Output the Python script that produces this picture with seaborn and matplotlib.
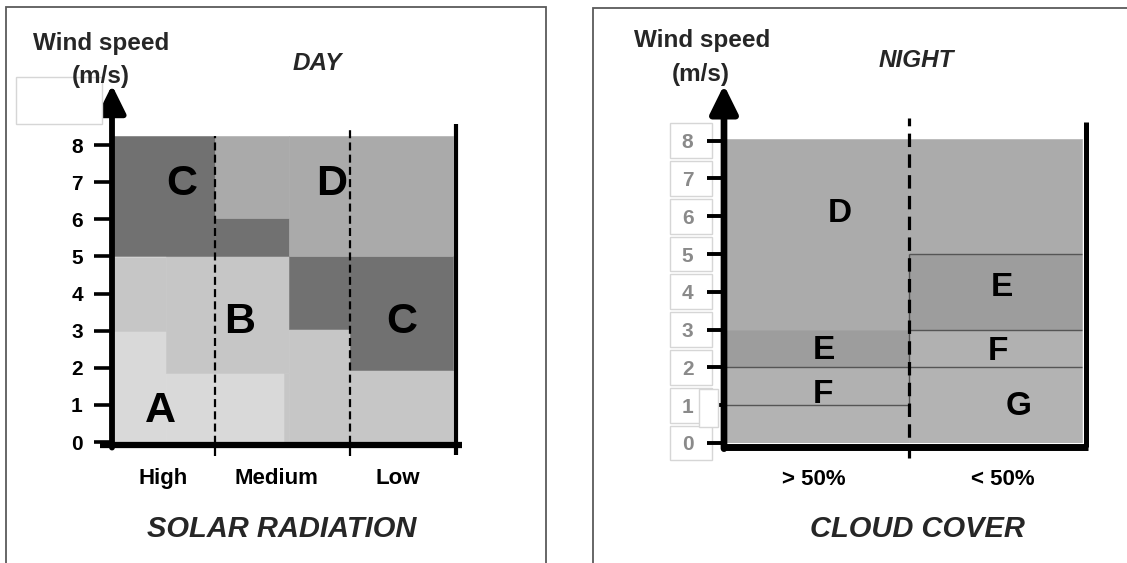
import numpy as np
import pandas as pd
import matplotlib
matplotlib.use("Agg")
import matplotlib.pyplot as plt
from matplotlib.patches import Rectangle
import seaborn as sns

# ---------------- data ----------------
wind_ticks = [0, 1, 2, 3, 4, 5, 6, 7, 8]

# DAY panel: x = relative position along the solar-radiation axis (0 = strong, 1 = weak)
day_classes = ['A', 'A', 'B', 'B', 'B', 'B', 'B', 'C', 'C', 'C', 'C', 'D', 'D']
day_x0 = [0.000, 0.156, 0.000, 0.156, 0.499, 0.515, 0.693, 0.000, 0.300, 0.515, 0.693, 0.300, 0.515]
day_x1 = [0.156, 0.499, 0.156, 0.515, 0.515, 0.693, 0.991, 0.300, 0.515, 0.693, 0.991, 0.515, 0.991]
day_y0 = [0.0, 0.0, 3.0, 1.86, 0.0, 0.0, 0.0, 5.0, 5.0, 3.05, 1.95, 6.04, 5.0]
day_y1 = [3.0, 1.86, 5.0, 5.0, 1.86, 3.05, 1.95, 8.24, 6.04, 5.0, 5.0, 8.24, 8.24]
day_categories = ['High', 'Medium', 'Low']
day_category_pos = [0.148, 0.477, 0.831]
day_dividers = [0.300, 0.693]
day_divider_top = [8.24, 8.41]
day_labels = ['C', 'D', 'B', 'C', 'A']
day_label_x = [0.203, 0.637, 0.372, 0.843, 0.142]
day_label_y = [6.66, 6.66, 2.94, 2.94, 0.54]

# NIGHT panel: x = relative position along the cloud-cover axis
night_classes = ['D', 'D', 'E', 'E', 'F', 'F', 'G', '-']
night_x0 = [0.00, 0.51, 0.00, 0.51, 0.00, 0.51, 0.51, 0.00]
night_x1 = [0.51, 0.989, 0.51, 0.989, 0.51, 0.989, 0.989, 0.51]
night_y0 = [3.0, 5.0, 2.0, 3.0, 1.0, 2.0, 0.0, 0.0]
night_y1 = [8.03, 8.03, 3.0, 5.0, 2.0, 3.0, 2.0, 1.0]
night_categories = ['> 50%', '< 50%']
night_category_pos = [0.249, 0.771]
night_divider = [0.51]
night_line_y = [2.0, 1.0, 3.0, 5.0]
night_line_x0 = [0.00, 0.00, 0.51, 0.51]
night_line_x1 = [0.989, 0.51, 0.989, 0.989]
night_labels = ['D', 'E', 'F', 'E', 'F', 'G']
night_label_x = [0.319, 0.276, 0.272, 0.767, 0.757, 0.815]
night_label_y = [5.85, 2.21, 1.05, 3.90, 2.19, 0.75]

day_palette = {'A': '#d9d9d9', 'B': '#c6c6c6', 'C': '#717171', 'D': '#aaaaaa'}
night_palette = {'D': '#ababab', 'E': '#9d9d9d', 'F': '#b1b1b1', 'G': '#b3b3b3', '-': '#b3b3b3'}

day_df = pd.DataFrame({'cls': day_classes, 'x0': day_x0, 'x1': day_x1, 'y0': day_y0, 'y1': day_y1})
night_df = pd.DataFrame({'cls': night_classes, 'x0': night_x0, 'x1': night_x1, 'y0': night_y0, 'y1': night_y1})

# ---------------- figure ----------------
sns.set_theme(style='white')
plt.rcParams['font.family'] = ['Liberation Sans', 'DejaVu Sans']

W, H = 1127, 563
fig = plt.figure(figsize=(W / 100, H / 100), dpi=100)
fig.patch.set_facecolor('white')

def fx(px):
    return px / W

def fy(py):
    return 1 - py / H

# panel frames
fig.add_artist(Rectangle((fx(6), fy(700)), fx(540), (700 - 7) / H, transform=fig.transFigure,
                         fill=False, ec='#5a5a5a', lw=1.3))
fig.add_artist(Rectangle((fx(593), fy(700)), fx(600), (700 - 8) / H, transform=fig.transFigure,
                         fill=False, ec='#5a5a5a', lw=1.3))
# empty boxes present in the original
fig.add_artist(Rectangle((fx(16), fy(124)), fx(86), 47 / H, transform=fig.transFigure,
                         fill=True, fc='white', ec='#d6d6d6', lw=1.0))
fig.add_artist(Rectangle((fx(699), fy(427)), fx(19), 38 / H, transform=fig.transFigure,
                         fill=True, fc='white', ec='#d6d6d6', lw=1.0, zorder=5))

axL = fig.add_axes([fx(112), (H - 442) / H, 344 / W, 371 / H])
axR = fig.add_axes([fx(724), (H - 443) / H, 362 / W, 378 / H])

for ax in (axL, axR):
    ax.set_xlim(0, 1)
    ax.set_ylim(0, 10)
    for s in ax.spines.values():
        s.set_visible(False)
    ax.set_facecolor('none')
    ax.grid(False)

def draw_regions(ax, df, palette):
    cols = list(df['cls'].map(palette))
    ax.bar(x=df['x0'], height=df['y1'] - df['y0'], width=df['x1'] - df['x0'], bottom=df['y0'],
           align='edge', color=cols, edgecolor=cols, linewidth=0.4, zorder=1)

arrow_style = '-|>,head_length=0.85,head_width=0.42'

# ---------- DAY ----------
draw_regions(axL, day_df, day_palette)
axL.vlines(day_dividers, -0.38, day_divider_top, colors='black', lw=1.6,
           linestyles=[(0, (3.6, 1.9))], clip_on=False, zorder=3)
axL.plot([-0.035, 1.017], [-0.07, -0.07], color='black', lw=4.5, solid_capstyle='butt',
         clip_on=False, zorder=4)
axL.plot([1.0, 1.0], [-0.35, 8.57], color='black', lw=3.0, solid_capstyle='butt',
         clip_on=False, zorder=4)
axL.annotate('', xy=(0, 9.62), xytext=(0, -0.15),
             arrowprops=dict(arrowstyle=arrow_style, lw=4.2,
                             color='black', mutation_scale=20, shrinkA=0, shrinkB=0),
             annotation_clip=False, zorder=5)
axL.set_yticks(wind_ticks)
axL.set_yticklabels([str(t) for t in wind_ticks], fontsize=15, fontweight='bold', color='black')
axL.tick_params(axis='y', left=True, length=13, width=2.6, pad=8, color='black', direction='out')
axL.set_xticks(day_category_pos)
axL.set_xticklabels(day_categories, fontsize=16, fontweight='bold', color='black')
axL.tick_params(axis='x', bottom=True, length=0, pad=19)
for t, x, y in zip(day_labels, day_label_x, day_label_y):
    axL.text(x, y, t, ha='center', va='baseline', fontsize=31, fontweight='bold',
             color='black', zorder=6)

fig.text(fx(101), fy(50), 'Wind speed', ha='center', va='baseline', fontsize=17.5, fontweight='bold')
fig.text(fx(101), fy(83), '(m/s)', ha='center', va='baseline', fontsize=17.5, fontweight='bold')
fig.text(fx(317), fy(70), 'DAY', ha='center', va='baseline', fontsize=17.5, fontweight='bold',
         style='italic')
fig.text(fx(282), fy(537), 'SOLAR RADIATION', ha='center', va='baseline', fontsize=21,
         fontweight='bold', style='italic')

# ---------- NIGHT ----------
draw_regions(axR, night_df, night_palette)
axR.hlines(night_line_y, night_line_x0, night_line_x1, colors='#555555', lw=1.0, zorder=2)
axR.vlines(night_divider, 1.0, 5.0, colors='#555555', lw=1.0, zorder=2)
axR.vlines(night_divider, -0.4, 8.6, colors='black', lw=2.3,
           linestyles=[(0, (4.2, 2.3))], clip_on=False, zorder=3)
axR.plot([0.0, 1.006], [-0.1, -0.1], color='black', lw=5.0, solid_capstyle='butt',
         clip_on=False, zorder=4)
axR.plot([1.0, 1.0], [-0.1, 8.5], color='black', lw=3.6, solid_capstyle='butt',
         clip_on=False, zorder=4)
axR.annotate('', xy=(0, 9.47), xytext=(0, -0.15),
             arrowprops=dict(arrowstyle=arrow_style, lw=4.8,
                             color='black', mutation_scale=20, shrinkA=0, shrinkB=0),
             annotation_clip=False, zorder=5)
axR.set_yticks(wind_ticks)
axR.set_yticklabels([str(t) for t in wind_ticks], fontsize=15, fontweight='bold', color='#8a8a8a')
axR.tick_params(axis='y', left=True, length=12, width=2.8, pad=10, color='black', direction='out')
# white label boxes behind the night tick labels (as in the original)
for t in wind_ticks:
    axR.add_patch(Rectangle((-0.150, t - 0.46), 0.117, 0.92, fc='white', ec='#d6d6d6',
                            lw=1.0, clip_on=False, zorder=0.5))
axR.set_xticks(night_category_pos)
axR.set_xticklabels(night_categories, fontsize=16, fontweight='bold', color='black')
axR.tick_params(axis='x', bottom=True, length=0, pad=19)
for t, x, y in zip(night_labels, night_label_x, night_label_y):
    axR.text(x, y, t, ha='center', va='baseline', fontsize=24, fontweight='bold',
             color='black', zorder=6)

fig.text(fx(702), fy(47), 'Wind speed', ha='center', va='baseline', fontsize=17.5, fontweight='bold')
fig.text(fx(701), fy(81), '(m/s)', ha='center', va='baseline', fontsize=17.5, fontweight='bold')
fig.text(fx(916), fy(67), 'NIGHT', ha='center', va='baseline', fontsize=17.5, fontweight='bold',
         style='italic')
fig.text(fx(917), fy(537), 'CLOUD COVER', ha='center', va='baseline', fontsize=21,
         fontweight='bold', style='italic')

fig.savefig('out.png', dpi=100, facecolor='white')
